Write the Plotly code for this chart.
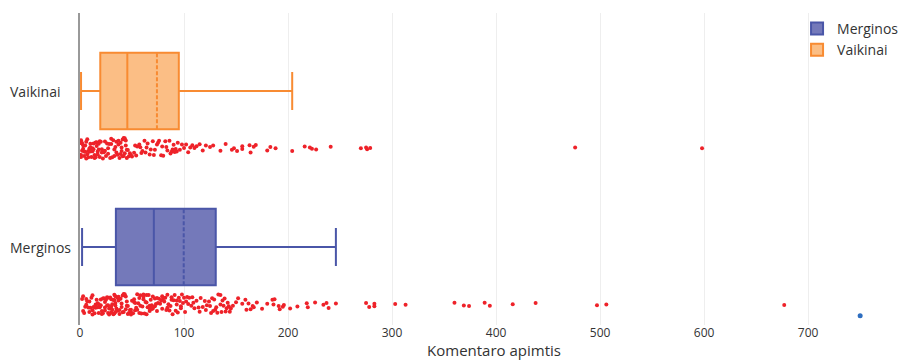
import plotly.graph_objects as go

CATEGORIES = ["Merginos", "Vaikinai"]
X_TICKS = [0, 100, 200, 300, 400, 500, 600, 700]
X_TITLE = "Komentaro apimtis"

VAIKINAI = [
    1, 1, 1, 1, 2, 2, 3, 3, 4, 4, 5, 5, 6, 6, 7, 7, 8, 8, 9, 9,
    10, 10, 11, 11, 12, 12, 13, 13, 14, 14, 15, 15, 16, 16, 17, 17, 18, 18, 19, 19,
    20, 21, 21, 22, 23, 24, 24, 25, 26, 27, 27, 28, 29, 30, 30, 31, 32, 33, 33, 34,
    35, 35, 36, 37, 37, 38, 39, 39, 40, 40, 41, 41, 42, 42, 43, 43, 44, 44, 45, 45,
    46, 47, 48, 49, 50, 52, 53, 54, 55, 57, 58, 59, 60, 62, 63, 64, 65, 67, 68, 70,
    71, 72, 74, 75, 76, 78, 79, 80, 82, 83, 84, 86, 87, 88, 89, 90, 91, 92, 93, 94,
    96, 98, 100, 102, 104, 106, 108, 110, 112, 115, 118, 121, 125, 128,
    135, 140, 146, 148, 151, 156, 156, 163, 164, 167, 169, 180, 183, 188, 204,
    216, 221, 223, 227, 241, 270, 275, 276, 279, 476, 598,
]

MERGINOS = [
    2, 3, 4, 5, 6, 7, 8, 9, 10, 11, 12, 12, 13, 14, 15, 16, 17, 17, 18, 19,
    20, 20, 21, 22, 22, 23, 24, 24, 25, 26, 26, 27, 27, 28, 28, 29, 29, 30, 30, 31,
    31, 32, 32, 33, 33, 33, 34, 34, 34, 34, 3, 6, 9, 12, 15, 18, 21, 24, 27, 30,
    35, 36, 36, 37, 38, 38, 39, 40, 40, 41, 42, 42, 43, 44, 44, 45, 46, 46, 47, 48,
    49, 49, 50, 51, 52, 52, 53, 54, 55, 55, 56, 57, 58, 58, 59, 60, 61, 61, 62, 63,
    64, 64, 65, 66, 67, 67, 68, 69, 70, 70, 37, 41, 45, 49, 53, 57, 61, 64, 67, 69,
    72, 72, 73, 74, 75, 76, 77, 78, 79, 80, 81, 82, 83, 84, 85, 86, 87, 88, 89, 90,
    91, 92, 93, 94, 95, 96, 97, 98, 99, 100, 101, 102, 104, 105, 107, 108, 110, 112, 114, 116,
    118, 120, 122, 124, 125, 126, 127, 128, 129, 130, 74, 79, 84, 88, 93, 97, 103, 109, 115, 121,
    131, 132, 133, 135, 137, 136, 138, 141, 142, 145, 147, 150, 152, 170, 175,
    135, 139, 140, 143, 144, 156, 159, 160, 162, 164, 166, 167, 180, 185, 186, 187,
    191, 192, 195, 196, 202, 209, 218, 219, 226, 234, 237, 239, 246,
    275, 278, 283, 283, 303, 313, 360, 369, 374, 389, 394, 416, 438, 497, 506, 677,
]

EXTRA_POINT_X = [750]

FONT = "Open Sans"
TEXT = "#333333"
RED = "#EE2229"

fig = go.Figure()

fig.add_trace(go.Box(
    x=MERGINOS, name=CATEGORIES[0], orientation="h",
    boxpoints="all", jitter=0.27, pointpos=-1.5, boxmean=True,
    line=dict(color="#4A56A8", width=2), fillcolor="#7479BA",
    marker=dict(color=RED, size=4), whiskerwidth=0.5,
))
fig.add_trace(go.Box(
    x=VAIKINAI, name=CATEGORIES[1], orientation="h",
    boxpoints="all", jitter=0.27, pointpos=-1.5, boxmean=True,
    line=dict(color="#F88B32", width=2), fillcolor="#FBBE85",
    marker=dict(color=RED, size=4), whiskerwidth=0.5,
))
fig.add_trace(go.Scatter(
    x=EXTRA_POINT_X, y=[-0.44] * len(EXTRA_POINT_X), yaxis="y2",
    mode="markers", marker=dict(color="#2E6EC0", size=5),
    showlegend=False, hoverinfo="x",
))

# left-aligned category labels, as in the reference
for cat in CATEGORIES:
    fig.add_annotation(
        text=cat, xref="paper", x=-72 / 828, xanchor="left",
        yref="y", y=cat, yanchor="middle", showarrow=False,
        font=dict(family=FONT, size=14, color=TEXT),
    )

fig.update_layout(
    template="none",
    width=908, height=360,
    margin=dict(l=80, r=0, t=13, b=35, autoexpand=False),
    paper_bgcolor="white", plot_bgcolor="white",
    font=dict(family=FONT, size=14, color=TEXT),
    showlegend=True,
    legend=dict(
        x=0.866, xanchor="left", y=1, yanchor="top",
        bgcolor="rgba(0,0,0,0)", font=dict(family=FONT, size=14, color=TEXT),
        traceorder="normal",
    ),
    xaxis=dict(
        range=[0, 796], tickvals=X_TICKS, ticks="", ticklabelstandoff=-1,
        showgrid=True, gridcolor="#EEEEEE", gridwidth=1,
        zeroline=False, showline=False,
        tickfont=dict(family=FONT, size=12, color=TEXT),
        title=dict(text=X_TITLE, font=dict(family=FONT, size=15, color=TEXT), standoff=9),
        automargin=False,
    ),
    yaxis=dict(
        type="category", categoryorder="array", categoryarray=CATEGORIES,
        range=[-0.5, 1.5], ticks="", showticklabels=False,
        showgrid=False, zeroline=False,
        showline=True, linecolor="#999999", linewidth=1.5,
        automargin=False,
    ),
    yaxis2=dict(
        overlaying="y", range=[-0.5, 1.5], visible=False, showgrid=False,
        zeroline=False,
    ),
)

fig.write_html("out.html")
